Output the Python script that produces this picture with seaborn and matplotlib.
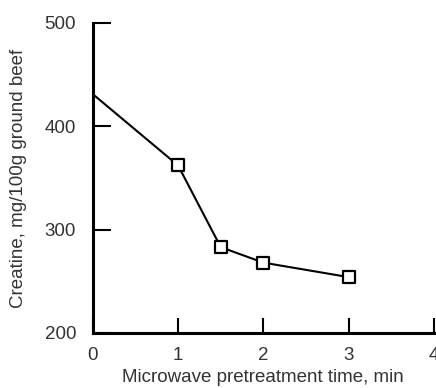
import pandas as pd
import numpy as np
import matplotlib
matplotlib.use("Agg")
import matplotlib.pyplot as plt
import seaborn as sns

# data
time_min = [0, 1, 1.5, 2, 3]
creatine = [431, 362, 283, 268, 254]
x_ticks = [0, 1, 2, 3, 4]
y_ticks = [200, 300, 400, 500]

sns.set_style("white", {"xtick.bottom": True, "ytick.left": True})
plt.rcParams['font.family'] = ['Liberation Sans', 'DejaVu Sans']

df = pd.DataFrame({"time": time_min, "creatine": creatine})

fig = plt.figure(figsize=(4.36, 3.88), dpi=100)
ax = fig.add_axes([0.213, 0.142, 0.782, 0.799])

# line without the first marker (it sits on the axis)
sns.lineplot(x="time", y="creatine", data=df, color="black", linewidth=1.5, ax=ax)
sns.scatterplot(x="time", y="creatine", data=df.iloc[1:], marker="s", s=65,
                facecolor="white", edgecolor="black", linewidth=1.6, zorder=3, ax=ax)

ax.set_xlim(0, 4)
ax.set_ylim(200, 500)
ax.set_xticks(x_ticks)
ax.set_yticks(y_ticks)
ax.tick_params(direction="in", width=1.5, colors="black",
               labelcolor="#333333", labelsize=13.5)
ax.tick_params(axis="y", length=13, pad=12)
ax.tick_params(axis="x", length=11, pad=10)

for side in ["top", "right"]:
    ax.spines[side].set_visible(False)
for side in ["left", "bottom"]:
    ax.spines[side].set_linewidth(2.2)
    ax.spines[side].set_color("black")

ax.set_xlabel("Microwave pretreatment time, min", fontsize=13.5, color="#333333", labelpad=4)
ax.set_ylabel("Creatine, mg/100g ground beef", fontsize=13.5, color="#333333", labelpad=13)

fig.savefig("out.png", dpi=100)
